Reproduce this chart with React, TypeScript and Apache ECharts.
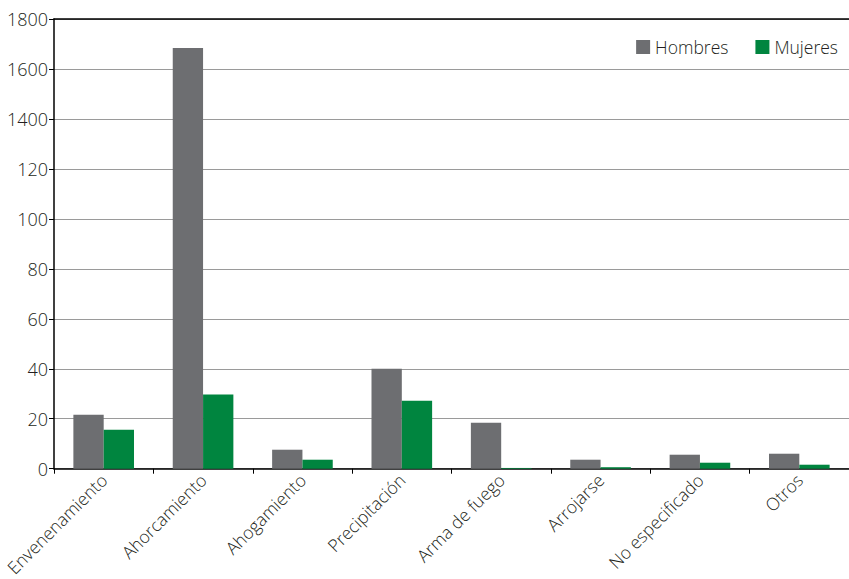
import React, { useEffect, useRef } from "react";
import * as echarts from "echarts";

const categories = [
  "Envenenamiento",
  "Ahorcamiento",
  "Ahogamiento",
  "Precipitación",
  "Arma de fuego",
  "Arrojarse",
  "No especificado",
  "Otros",
];
const hombres = [21.6, 168.4, 7.6, 40, 18.4, 3.6, 5.6, 6];
const mujeres = [15.6, 29.7, 3.6, 27.2, 0.3, 0.6, 2.4, 1.6];
const yTickLabels: Record<number, string> = {
  0: "0",
  20: "20",
  40: "40",
  60: "60",
  80: "80",
  100: "100",
  120: "120",
  140: "1400",
  160: "1600",
  180: "1800",
};

const FONT = "'Open Sans'";

export default function App() {
  const ref = useRef<HTMLDivElement>(null);
  useEffect(() => {
    if (!ref.current) return;
    const chart = echarts.init(ref.current, undefined, { renderer: "svg" });
    chart.setOption({
      animation: false,
      backgroundColor: "#ffffff",
      textStyle: { fontFamily: FONT },
      legend: {
        right: 6,
        top: 33,
        itemWidth: 14,
        itemHeight: 14,
        itemGap: 27,
        icon: "rect",
        textStyle: { fontSize: 17.5, color: "#231f20", fontFamily: FONT, fontWeight: 300 },
        data: ["Hombres", "Mujeres"],
      },
      grid: { left: 54, top: 19, width: 800, height: 450, containLabel: false },
      xAxis: [
        {
          type: "category",
          data: categories,
          axisLine: { lineStyle: { color: "#000", width: 1.5 } },
          axisTick: { show: true, length: 5, lineStyle: { color: "#000" } },
          axisLabel: {
            rotate: 45,
            fontSize: 17.5,
            color: "#231f20",
            margin: 8,
            interval: 0,
            fontFamily: FONT,
            fontWeight: 300,
          },
        },
        {
          type: "category",
          position: "top",
          data: categories,
          axisLine: { show: true, lineStyle: { color: "#000", width: 1.5 } },
          axisTick: { show: false },
          axisLabel: { show: false },
        },
      ],
      yAxis: {
        type: "value",
        min: 0,
        max: 180,
        interval: 20,
        axisLine: { show: true, lineStyle: { color: "#000", width: 1.5 } },
        axisTick: { show: true, length: 5, lineStyle: { color: "#000" } },
        splitLine: { lineStyle: { color: "#9a9a9a", width: 1.2 } },
        axisLabel: {
          fontSize: 18,
          color: "#231f20",
          margin: 6,
          fontFamily: FONT,
          fontWeight: 300,
          formatter: (v: number) => yTickLabels[v] ?? String(v),
        },
      },
      series: [
        {
          name: "Hombres",
          type: "bar",
          data: hombres,
          itemStyle: { color: "#6d6e71" },
          barGap: "0%",
          barCategoryGap: "39%",
        },
        {
          name: "Mujeres",
          type: "bar",
          data: mujeres,
          itemStyle: { color: "#00853f" },
          barGap: "0%",
          barCategoryGap: "39%",
        },
      ],
    });
    return () => chart.dispose();
  }, []);
  return (
    <div
      ref={ref}
      style={{ position: "fixed", left: 0, top: 0, width: 849, height: 579 }}
    />
  );
}
